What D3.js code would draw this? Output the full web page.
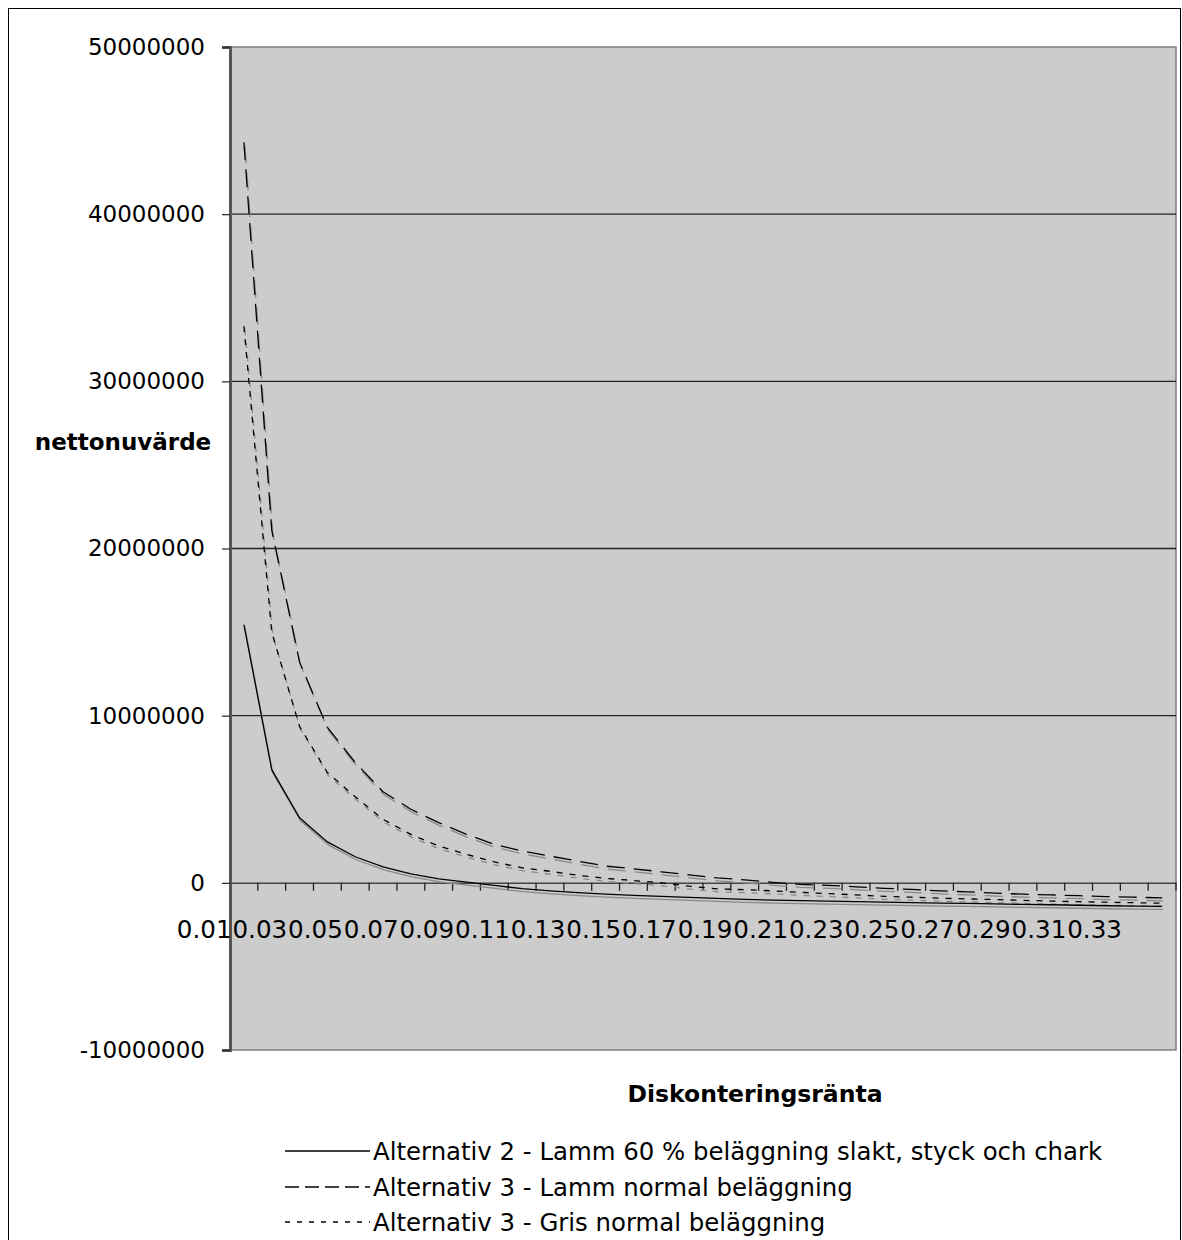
<!DOCTYPE html>
<html><head><meta charset="utf-8">
<script src="https://cdn.jsdelivr.net/npm/d3@7"></script>
<style>body{margin:0;background:#fff}svg{display:block}text{font-family:"DejaVu Sans",Verdana,sans-serif;fill:#000}</style>
</head><body><svg id="c" width="1182" height="1240"></svg>
<script>
const categories = ["0.01","0.02","0.03","0.04","0.05","0.06","0.07","0.08","0.09","0.10","0.11","0.12","0.13","0.14","0.15","0.16","0.17","0.18","0.19","0.20","0.21","0.22","0.23","0.24","0.25","0.26","0.27","0.28","0.29","0.30","0.31","0.32","0.33","0.34"];
const alt2Lamm60 = [15450000,6770000,3890000,2450000,1560000,960000,540000,240000,40000,-150000,-350000,-480000,-580000,-680000,-750000,-810000,-870000,-930000,-990000,-1030000,-1070000,-1100000,-1130000,-1160000,-1180000,-1210000,-1230000,-1260000,-1290000,-1310000,-1340000,-1370000,-1390000,-1410000];
const alt3Lamm = [44300000,21100000,13200000,9300000,7200000,5450000,4400000,3600000,2900000,2300000,1900000,1600000,1300000,1000000,840000,660000,480000,300000,180000,30000,-90000,-150000,-240000,-330000,-390000,-480000,-540000,-620000,-680000,-720000,-770000,-820000,-860000,-900000];
const alt3Gris = [33300000,15000000,9350000,6600000,5150000,3800000,2900000,2200000,1700000,1250000,900000,690000,450000,270000,140000,0,-200000,-360000,-410000,-480000,-570000,-650000,-720000,-810000,-860000,-920000,-960000,-1000000,-1050000,-1090000,-1130000,-1160000,-1190000,-1220000];
const yTicks = [-10000000,0,10000000,20000000,30000000,40000000,50000000];
const seriesNames = ["Alternativ 2 - Lamm 60 % beläggning slakt, styck och chark","Alternativ 3 - Lamm normal beläggning","Alternativ 3 - Gris normal beläggning"];
const xLabelCats = categories.filter((d,i)=>i%2===0);

const svg = d3.select("#c");
const L=230,R=1176,T=47,B=1050;
svg.append("rect").attr("x",8.5).attr("y",8.5).attr("width",1172).attr("height",1240).attr("fill","#fff").attr("stroke","#000").attr("stroke-width",1);

const x = d3.scaleBand().domain(categories).range([L,R]).padding(0);
const y = d3.scaleLinear().domain([-10000000,50000000]).range([B,T]);

svg.append("rect").attr("x",L).attr("y",T).attr("width",R-L).attr("height",B-T).attr("fill","#cccccc").attr("stroke","#808080").attr("stroke-width",1.5);

// gridlines
svg.append("g").selectAll("line").data(yTicks.filter(v=>v!==-10000000&&v!==0&&v!==50000000)).join("line")
  .attr("x1",L).attr("x2",R).attr("y1",d=>y(d)).attr("y2",d=>y(d)).attr("stroke","#222").attr("stroke-width",1.3);

// y axis
const ya = svg.append("g").attr("transform",`translate(${L},0)`).call(d3.axisLeft(y).tickValues(yTicks).tickSize(8).tickPadding(17).tickFormat(d=>String(d)));
ya.select(".domain").attr("stroke","#555").attr("stroke-width",3);
ya.selectAll(".tick line").attr("stroke","#333").attr("stroke-width",1.3);
ya.selectAll(".tick text").attr("font-size",23).attr("font-family","DejaVu Sans").attr("fill","#000");

// x axis at zero
const xa = svg.append("g").attr("transform",`translate(0,${y(0)})`).call(d3.axisBottom(x).tickValues([]).tickSize(0));
xa.select(".domain").attr("stroke","#444").attr("stroke-width",1.5);
svg.append("g").selectAll("line").data(categories).join("line")
  .attr("x1",d=>x(d)+x.bandwidth()).attr("x2",d=>x(d)+x.bandwidth())
  .attr("y1",y(0)).attr("y2",y(0)+8).attr("stroke","#222").attr("stroke-width",1.3);
svg.append("g").selectAll("text").data(xLabelCats).join("text")
  .attr("x",d=>x(d)+x.bandwidth()/2-39.7).attr("y",y(0)+47).attr("dy","0.35em").attr("text-anchor","middle")
  .attr("font-size",24.6).text(d=>d);

// series
const line = d3.line().x((d,i)=>x(categories[i])+x.bandwidth()/2).y(d=>y(d));
const series = [
  {v:alt2Lamm60,dash:null,ldash:null},
  {v:alt3Lamm,dash:"18,9",ldash:"14,6"},
  {v:alt3Gris,dash:"6,7",ldash:"5,7"}
];
const g = svg.append("g");
series.forEach(s=>{
  g.append("path").attr("d",line(s.v)).attr("fill","none").attr("stroke","#8a8a8a").attr("stroke-width",1.3)
    .attr("stroke-dasharray",s.dash).attr("transform","translate(1,3)");
});
series.forEach(s=>{
  g.append("path").attr("d",line(s.v)).attr("fill","none").attr("stroke","#000").attr("stroke-width",1.3)
    .attr("stroke-dasharray",s.dash);
});

// axis titles
svg.append("text").attr("x",123).attr("y",442).attr("dy","0.35em").attr("text-anchor","middle").attr("font-weight","bold").attr("font-size",23).text("nettonuvärde");
svg.append("text").attr("x",755).attr("y",1094).attr("dy","0.35em").attr("text-anchor","middle").attr("font-weight","bold").attr("font-size",23.5).text("Diskonteringsränta");

// legend
const lg = svg.append("g");
const rowsY = [1151,1187,1222];
series.forEach((s,i)=>{
  lg.append("line").attr("x1",285).attr("x2",370).attr("y1",rowsY[i]).attr("y2",rowsY[i]).attr("stroke","#000").attr("stroke-width",1.3).attr("stroke-dasharray",s.ldash);
  lg.append("text").attr("x",373).attr("y",rowsY[i]).attr("dy","0.35em").attr("font-size",24.4).text(seriesNames[i]);
});
</script></body></html>
